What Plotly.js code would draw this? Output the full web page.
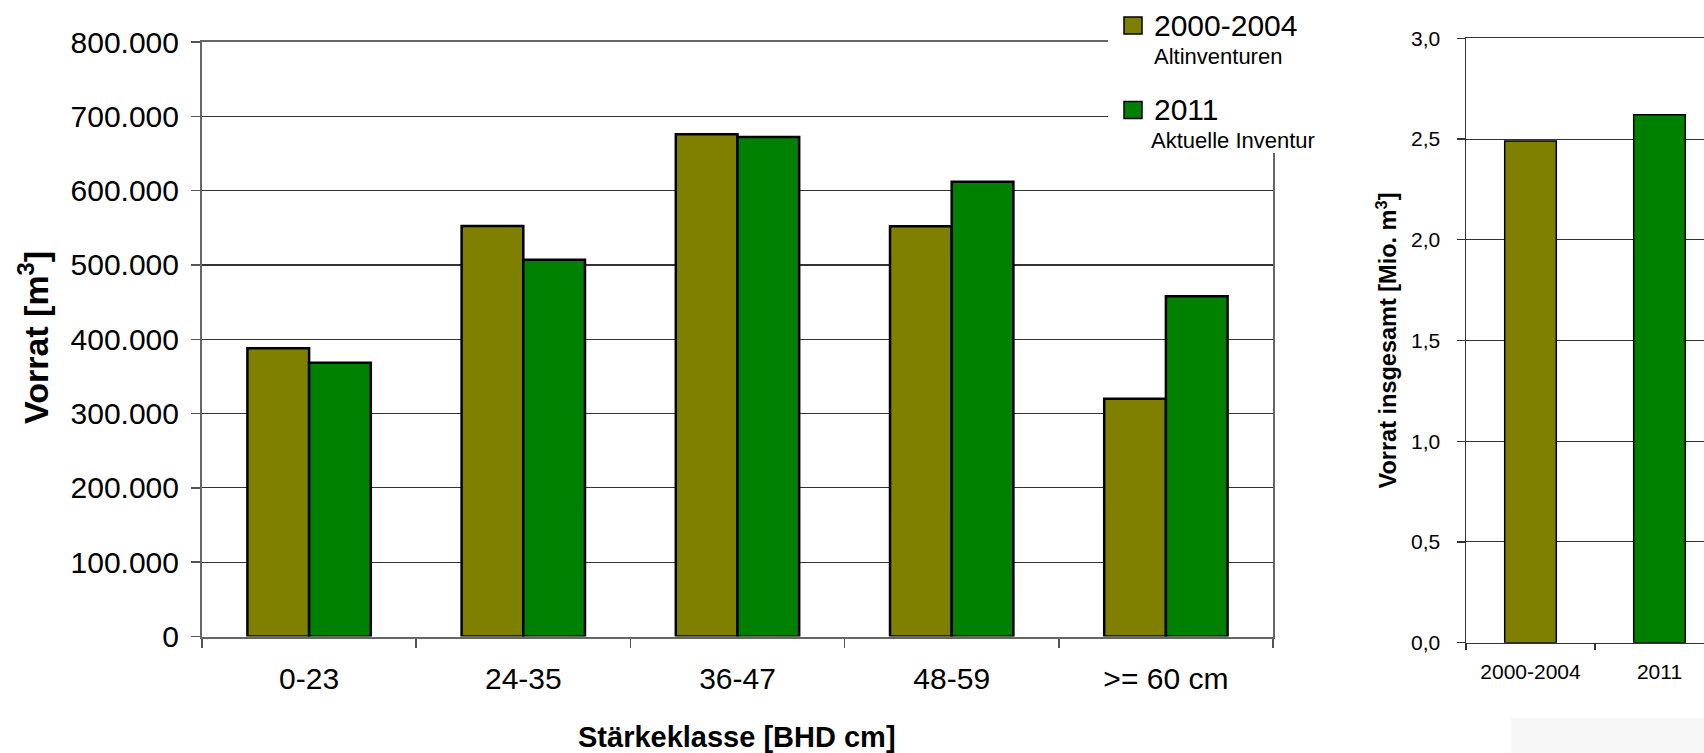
<!DOCTYPE html>
<html><head><meta charset="utf-8">
<script src="https://cdn.plot.ly/plotly-3.0.1.min.js"></script>
<style>html,body{margin:0;padding:0;overflow:hidden;background:#fff}</style>
</head><body><div id="chart" style="width:1704px;height:753px"></div>
<script>
// ---- data ----
const categories = ['0-23', '24-35', '36-47', '48-59', '>= 60 cm'];
const vorrat2000 = [388000, 552500, 676000, 552000, 320000];
const vorrat2011 = [368500, 507000, 672000, 612000, 458000];
const totalLabels = ['2000-2004', '2011'];
const totalValues = [2.49, 2.62];
const seriesNames = ['2000-2004', '2011'];
const seriesSubtitles = ['Altinventuren', 'Aktuelle Inventur'];

// ---- styles ----
const OLIVE = '#808000', GREEN = '#008000';
const FONT = 'Liberation Sans, Arial, sans-serif';
const W = 1704, H = 753;
const px = x => x / W, py = y => 1 - y / H;

const traces = [
  {type: 'bar', name: seriesNames[0], x: categories, y: vorrat2000, xaxis: 'x', yaxis: 'y',
   marker: {color: OLIVE, line: {color: '#000', width: 2.5}}, hoverinfo: 'none'},
  {type: 'bar', name: seriesNames[1], x: categories, y: vorrat2011, xaxis: 'x', yaxis: 'y',
   marker: {color: GREEN, line: {color: '#000', width: 2.5}}, hoverinfo: 'none'},
  {type: 'bar', name: 'Insgesamt', x: totalLabels, y: totalValues, xaxis: 'x2', yaxis: 'y2', width: 0.4,
   marker: {color: [OLIVE, GREEN], line: {color: '#000', width: 1.5}}, hoverinfo: 'none', showlegend: false}
];

const legendColors = [OLIVE, GREEN];
const legendRows = [25.5, 110];
const shapes = [
  {type: 'rect', xref: 'paper', yref: 'paper', x0: px(1511), x1: 1, y0: 0, y1: py(717.7),
   fillcolor: '#f7f7f7', line: {width: 0}, layer: 'below'},
  {type: 'rect', xref: 'paper', yref: 'paper', x0: px(1108), x1: px(1345), y0: py(153), y1: 1,
   fillcolor: '#fff', line: {width: 0}, layer: 'above'}
];
const annotations = [];
seriesNames.forEach((n, i) => {
  const yc = legendRows[i];
  shapes.push({type: 'rect', xref: 'paper', yref: 'paper', x0: px(1124), x1: px(1142),
    y0: py(yc + 8.5), y1: py(yc - 8.5), fillcolor: legendColors[i], line: {color: '#000', width: 1.5}, layer: 'above'});
  annotations.push({xref: 'paper', yref: 'paper', x: px(1152), y: py(yc), xanchor: 'left', yanchor: 'middle',
    text: n, showarrow: false, font: {size: 30, family: FONT, color: '#000'}});
  annotations.push({xref: 'paper', yref: 'paper', x: px(i === 0 ? 1152 : 1149), y: py(yc + 30.5), xanchor: 'left', yanchor: 'middle',
    text: seriesSubtitles[i], showarrow: false, font: {size: 22, family: FONT, color: '#000'}});
});
annotations.push({xref: 'paper', yref: 'paper', x: px(33), y: py(338), xanchor: 'center', yanchor: 'middle',
  textangle: -90, text: '<b>Vorrat [m<sup>3</sup>]</b>', showarrow: false, font: {size: 34, family: FONT, color: '#000'}});
annotations.push({xref: 'paper', yref: 'paper', x: px(737), y: py(737), xanchor: 'center', yanchor: 'middle',
  text: '<b>Stärkeklasse [BHD cm]</b>', showarrow: false, font: {size: 29, family: FONT, color: '#000'}});
annotations.push({xref: 'paper', yref: 'paper', x: px(1386), y: py(340.5), xanchor: 'center', yanchor: 'middle',
  textangle: -90, text: '<b>Vorrat insgesamt [Mio. m<sup>3</sup>]</b>', showarrow: false,
  font: {size: 23.5, family: FONT, color: '#000'}});

const layout = {
  width: W, height: H,
  margin: {l: 0, r: 0, t: 0, b: 0},
  paper_bgcolor: '#fff', plot_bgcolor: 'rgba(0,0,0,0)',
  separators: ',.',
  showlegend: false,
  barmode: 'group', bargap: 0.424, bargroupgap: 0,
  font: {family: FONT, color: '#000'},
  xaxis: {domain: [px(202), px(1273)], range: [-0.5, 4.5], type: 'category', tickson: 'boundaries',
    ticks: 'outside', ticklen: 9, tickwidth: 1.5, tickcolor: '#555', showline: true, linecolor: '#666', linewidth: 2,
    mirror: true, showgrid: false, tickfont: {size: 30, color: '#000'}, ticklabelstandoff: 14, anchor: 'y', fixedrange: true},
  yaxis: {domain: [py(636.5), py(42)], range: [0, 800000], dtick: 100000, tickformat: ',d',
    ticks: 'outside', ticklen: 9, tickwidth: 1.5, tickcolor: '#555', showline: true, linecolor: '#666', linewidth: 2,
    mirror: true, gridcolor: '#333', gridwidth: 1.2, zeroline: false, tickfont: {size: 30, color: '#000'},
    ticklabelstandoff: 6, anchor: 'x', fixedrange: true},
  xaxis2: {domain: [px(1466), 1], range: [-0.5, 1.345], type: 'category', tickson: 'boundaries',
    ticks: 'outside', ticklen: 6, tickwidth: 1.2, tickcolor: '#333', showline: true, linecolor: '#333', linewidth: 1.5,
    mirror: true, showgrid: false, tickfont: {size: 21, color: '#000'}, ticklabelstandoff: 10, anchor: 'y2', fixedrange: true},
  yaxis2: {domain: [py(642.7), py(38.3)], range: [0, 3], dtick: 0.5, tickformat: '.1f',
    ticks: 'outside', ticklen: 8, tickwidth: 1.2, tickcolor: '#333', showline: true, linecolor: '#333', linewidth: 1.5,
    gridcolor: '#333', gridwidth: 1, zeroline: false, tickfont: {size: 21, color: '#000'},
    ticklabelstandoff: 12, anchor: 'x2', fixedrange: true},
  shapes: shapes,
  annotations: annotations
};

Plotly.newPlot('chart', traces, layout, {displayModeBar: false, staticPlot: true});
</script>
</body></html>
